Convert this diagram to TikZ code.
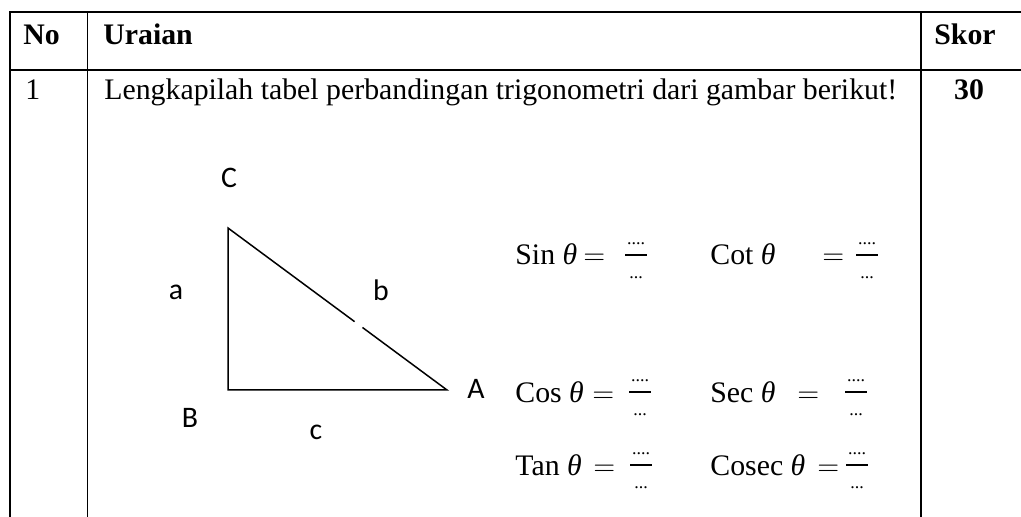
\documentclass[tikz,border=0pt]{standalone}
\usepackage{fontspec}
\setmainfont{Liberation Serif}
\newfontfamily\sketchfont{Carlito}
\usepackage{tikz}
\usetikzlibrary{calc}
\newcommand{\cellsize}{\fontsize{14.9}{17}\selectfont}
\newcommand{\dotsize}{\fontsize{9}{10}\selectfont}

\begin{document}
\begin{tikzpicture}[x=0.5pt,y=-0.5pt,
    cell/.style={anchor=base west,inner sep=0pt,font=\cellsize},
    headcell/.style={cell,font=\cellsize\bfseries},
    vertexlbl/.style={inner sep=0pt,font=\sketchfont\cellsize},
    fracpart/.style={anchor=base,inner sep=0pt,font=\dotsize}]
    \useasboundingbox (0,0) rectangle (1021,517);
    % table rules
    \draw[line width=1pt] (10,517) -- (10,12) -- (1021,12);
    \draw[line width=1pt] (10,70) -- (1021,70);
    \draw[line width=0.5pt] (87,12) -- (87,517);
    \draw[line width=1pt] (921,12) -- (921,517);
    \node[headcell] (no) at (23,45) {No};
    \node[headcell] (uraian) at (103,45) {Uraian};
    \node[headcell] (skor) at (934,45) {Skor};
    \node[cell] (nomor) at (25,100) {1};
    \node[cell] (soal) at (104,100) {Lengkapilah tabel perbandingan trigonometri dari gambar berikut!};
    \node[headcell,anchor=base] (nilai) at (969,100) {30};
    % triangle
    \coordinate (C) at (228,228);
    \coordinate (B) at (228,390);
    \coordinate (A) at (447,390);
    \draw[line width=0.75pt] ($(C)!0.578!(A)$) -- (C) -- (B) -- (A) -- ($(C)!0.614!(A)$);
    \node[vertexlbl] (lblC) at (229,178) {C};
    \node[vertexlbl] (lbla) at (176,292) {a};
    \node[vertexlbl] (lblb) at (381,290) {b};
    \node[vertexlbl] (lblB) at (190,418) {B};
    \node[vertexlbl] (lblc) at (316,432) {c};
    \node[vertexlbl] (lblA) at (476,389) {A};
    % ratios
    \foreach \fn/\lx/\by/\ex/\bx in {Sin/515/265/583/625,Cot/710/265/822/856,
      Cos/515/402/592/629,Sec/710/402/797/845,Tan/515/475/593/630,Cosec/710/475/817/846} {
      \node[cell] (lbl-\fn) at (\lx,\by) {\fn\ {\itshape θ}};
      \node[cell] (eq-\fn) at (\ex,\by) {$=$};
      \coordinate (barl-\fn) at (\bx,\by-10);
      \coordinate (barr-\fn) at (\bx+22,\by-10);
      \draw[line width=0.9pt] (barl-\fn) -- (barr-\fn);
      \node[fracpart] (num-\fn) at (\bx+11,\by-20.5) {....};
      \node[fracpart] (den-\fn) at (\bx+11,\by+13.5) {...};
    }
\end{tikzpicture}
\end{document}
